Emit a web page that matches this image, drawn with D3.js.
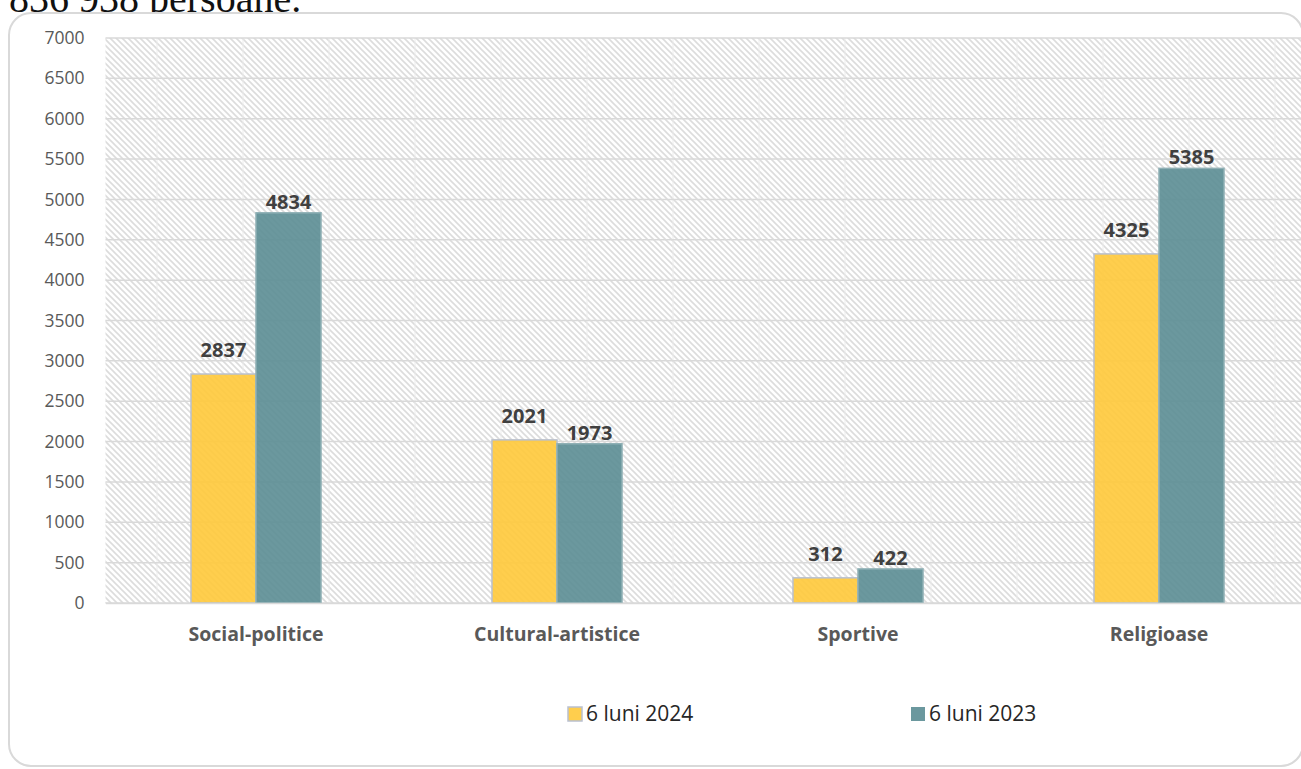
<!DOCTYPE html>
<html>
<head>
<meta charset="utf-8">
<script src="https://cdn.jsdelivr.net/npm/d3@7"></script>
<style>
  html, body { margin: 0; padding: 0; background: #fff; }
  svg { display: block; }
</style>
</head>
<body>
<div id="chart"></div>
<script>
// date
const categories = ['Social-politice', 'Cultural-artistice', 'Sportive', 'Religioase'];
const seriesNames = ['6 luni 2024', '6 luni 2023'];
const values2024 = [2837, 2021, 312, 4325];
const values2023 = [4834, 1973, 422, 5385];
const yTicks = d3.range(0, 7001, 500);

const colors = ['#FFC93A', '#5B8D94'];
const strokes = ['#b9c0cf', '#8fb0b5'];
const labelGap = [17, 4];

const W = 1301, H = 769;
const svg = d3.select('#chart').append('svg')
    .attr('width', W)
    .attr('height', H);

// pattern hasurat
const defs = svg.append('defs');
const pat = defs.append('pattern')
    .attr('id', 'hatch')
    .attr('patternUnits', 'userSpaceOnUse')
    .attr('width', 6)
    .attr('height', 6);
pat.append('rect').attr('width', 6).attr('height', 6).attr('fill', '#fff');
pat.append('path')
    .attr('d', 'M-1,-1 L7,7 M-7,-1 L1,7 M5,-1 L13,7')
    .attr('stroke', '#dcdcdc')
    .attr('stroke-width', 1.6);

// text deasupra (taiat)
svg.append('text')
    .attr('x', 9)
    .attr('y', 12)
    .style('font-family', '"Liberation Serif", "DejaVu Serif", serif')
    .style('font-size', '40px')
    .style('fill', '#111')
    .text('836 938 persoane.');

// chenar
svg.append('rect')
    .attr('x', 9)
    .attr('y', 13)
    .attr('width', 1294)
    .attr('height', 753)
    .attr('rx', 22)
    .attr('fill', '#fff')
    .attr('stroke', '#d9d9d9')
    .attr('stroke-width', 2);

const plot = { left: 105.5, right: 1309.5, top: 38, bottom: 603 };

const x = d3.scaleBand()
    .domain(categories)
    .range([plot.left, plot.right])
    .paddingInner(0.568)
    .paddingOuter(0.284);

const xs = d3.scaleBand()
    .domain(seriesNames)
    .range([0, x.bandwidth()]);

const y = d3.scaleLinear()
    .domain([0, 7000])
    .range([plot.bottom, plot.top]);

// fundal
svg.append('rect')
    .attr('x', plot.left)
    .attr('y', plot.top)
    .attr('width', plot.right - plot.left)
    .attr('height', plot.bottom - plot.top)
    .attr('fill', 'url(#hatch)');

// linii verticale slabe (imbinari)
const seams = d3.range(157, W, 86);
svg.append('g').selectAll('line')
    .data(seams)
    .join('line')
    .attr('x1', d => d).attr('x2', d => d)
    .attr('y1', plot.top).attr('y2', plot.bottom)
    .attr('stroke', '#ececec')
    .attr('stroke-width', 1);

// grila
svg.append('g').selectAll('line')
    .data(yTicks)
    .join('line')
    .attr('x1', plot.left)
    .attr('x2', plot.right)
    .attr('y1', d => y(d))
    .attr('y2', d => y(d))
    .attr('stroke', '#d9d9d9')
    .attr('stroke-width', 1.5);

// axa Y
const yAxis = svg.append('g')
    .attr('transform', `translate(${plot.left - 21},0)`)
    .call(d3.axisLeft(y).tickValues(yTicks).tickSize(0).tickPadding(0).tickFormat(d3.format('d')));
yAxis.select('.domain').remove();
yAxis.selectAll('text')
    .style('font-family', '"Open Sans", "Noto Sans", sans-serif')
    .style('font-size', '17.5px')
    .style('fill', '#595959');

// bare
const series = [values2024, values2023];
const groups = svg.append('g').selectAll('g')
    .data(series)
    .join('g');

groups.each(function(vals, si) {
    const g = d3.select(this);
    g.selectAll('rect')
        .data(vals)
        .join('rect')
        .attr('x', (d, i) => x(categories[i]) + xs(seriesNames[si]))
        .attr('y', d => y(d))
        .attr('width', xs.bandwidth())
        .attr('height', d => y(0) - y(d))
        .attr('fill', colors[si])
        .attr('fill-opacity', 0.9)
        .attr('stroke', strokes[si])
        .attr('stroke-width', 1.5);

    g.selectAll('text')
        .data(vals)
        .join('text')
        .attr('x', (d, i) => x(categories[i]) + xs(seriesNames[si]) + xs.bandwidth() / 2)
        .attr('y', d => y(d) - labelGap[si])
        .attr('text-anchor', 'middle')
        .style('font-family', '"Open Sans", "Noto Sans", sans-serif')
        .style('font-weight', 'bold')
        .style('font-size', '20px')
        .style('fill', '#404040')
        .text(d => d);
});

// axa X
const xAxis = svg.append('g')
    .attr('transform', `translate(0,${plot.bottom})`)
    .call(d3.axisBottom(x).tickSize(0).tickPadding(24));
xAxis.select('.domain')
    .attr('stroke', '#d9d9d9')
    .attr('stroke-width', 1.5);
xAxis.selectAll('text')
    .style('font-family', '"Open Sans", "Noto Sans", sans-serif')
    .style('font-weight', 'bold')
    .style('font-size', '19.5px')
    .style('fill', '#595959');

// legenda
const legendX = [568, 911];
const legend = svg.append('g').selectAll('g')
    .data(seriesNames)
    .join('g')
    .attr('transform', (d, i) => `translate(${legendX[i]},707)`);
legend.append('rect')
    .attr('width', 14)
    .attr('height', 14)
    .attr('fill', (d, i) => colors[i])
    .attr('fill-opacity', 0.9)
    .attr('stroke', (d, i) => i === 0 ? strokes[0] : 'none')
    .attr('stroke-width', 1.5);
legend.append('text')
    .attr('x', 18)
    .attr('y', 14)
    .style('font-family', '"Open Sans", "Noto Sans", sans-serif')
    .style('font-size', '21px')
    .style('fill', '#262626')
    .text(d => d);
</script>
</body>
</html>
